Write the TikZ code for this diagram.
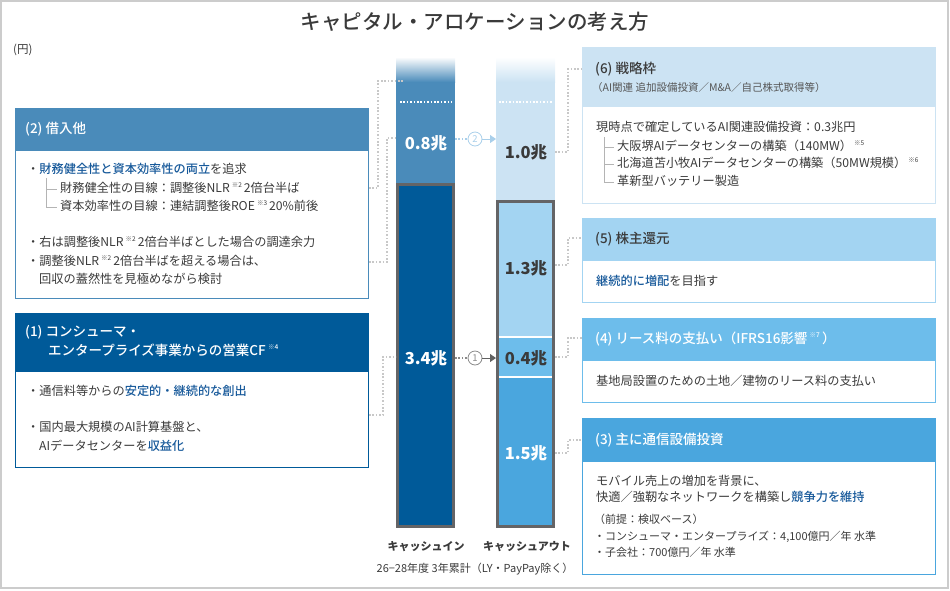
\documentclass[tikz,border=0pt]{standalone}
\usepackage{fontspec}
\setmainfont{Noto Sans CJK JP}
\newfontfamily\medfont{Noto Sans CJK JP Medium}
\usetikzlibrary{arrows.meta}
\definecolor{steel}{HTML}{4A8BBA}
\definecolor{navy}{HTML}{005A99}
\definecolor{pale}{HTML}{CCE3F3}
\definecolor{lblue}{HTML}{A3D4F2}
\definecolor{mblue}{HTML}{6DBDEB}
\definecolor{sblue}{HTML}{4AA6DE}
\definecolor{hl}{HTML}{17599A}
\definecolor{txt}{HTML}{3A3A3A}
\definecolor{subtxt}{HTML}{555555}
\definecolor{bargray}{HTML}{646466}
\definecolor{dotgray}{HTML}{C8C8C8}
\definecolor{framegray}{HTML}{CCCCCC}
\definecolor{treegray}{HTML}{B4B4B4}
\definecolor{arrowblue}{HTML}{A9CFEA}
\definecolor{arrowgray}{HTML}{8A8A8A}
\newcommand{\hlt}[1]{{\color{hl}\medfont #1}}
\newcommand{\kome}[1]{\,\raisebox{0.45em}{\fontsize{6.5pt}{7pt}\selectfont ※#1}\,}
\newcommand{\fs}[1]{\fontsize{#1pt}{#1pt}\selectfont}
\begin{document}
\begin{tikzpicture}[x=1pt,y=-1pt,
  bt/.style={anchor=west, inner sep=0pt, text=txt, font=\fs{12.2}, text height=0.88em, text depth=0.12em},
  bts/.style={bt, font=\fs{11}},
  hdw/.style={bt, text=white, font=\fs{13.5}\medfont},
  hdd/.style={bt, text=txt, font=\fs{13.5}\medfont},
  boxnode/.style={anchor=north west, inner sep=0pt, line width=1pt, minimum width=353pt},
  barlbl/.style={inner sep=0pt, font=\fs{16.5}\bfseries},
  dotc/.style={draw=dotgray, line width=1.6pt, dash pattern=on 1.6pt off 1.8pt},
  tree/.style={draw=treegray, line width=1pt},
  wdot/.style={draw=white, line width=1.6pt, dash pattern=on 1.6pt off 1.8pt},
  circnum/.style={circle, draw, line width=0.8pt, minimum size=14pt, inner sep=0pt, font=\fs{9.5}}
]
\useasboundingbox (0,0) rectangle (950,590);
\draw[framegray, line width=1.5pt] (1,1) rectangle (948,588);

% title
\node[font=\fs{20.5}\medfont, text=txt] (title) at (475,22) {キャピタル・アロケーションの考え方};
\node[anchor=west, inner sep=0pt, text=txt, font=\fs{11.5}] (unit) at (13,50) {(円)};

% ---------- left box (2)
\fill[steel] (15,108) rectangle (369,151);
\node[boxnode, draw=steel, minimum height=190pt] (box2) at (15,108) {};
\node[hdw] (h2) at (25,130) {(2) 借入他};
\node[bt] (b2a) at (27,170) {・\hlt{財務健全性と資本効率性の両立}を追求};
\draw[tree] (46,178) |- (57,189);
\draw[tree] (46,189) |- (57,207);
\node[bt] (b2b) at (60,189) {財務健全性の目線：調整後NLR\kome{2}2倍台半ば};
\node[bt] (b2c) at (60,207) {資本効率性の目線：連結調整後ROE\kome{3}20\%前後};
\node[bt] (b2d) at (27,243) {・右は調整後NLR\kome{2}2倍台半ばとした場合の調達余力};
\node[bt] (b2e) at (27,262) {・調整後NLR\kome{2}2倍台半ばを超える場合は、};
\node[bt] (b2f) at (39,280) {回収の蓋然性を見極めながら検討};

% ---------- left box (1)
\fill[navy] (15,313) rectangle (369,372);
\node[boxnode, draw=navy, minimum height=154pt] (box1) at (15,313) {};
\node[hdw] (h1a) at (25,333) {(1) コンシューマ・};
\node[hdw] (h1b) at (48,352) {エンタープライズ事業からの営業CF\kome{4}};
\node[bt] (b1a) at (27,392) {・通信料等からの\hlt{安定的・継続的な創出}};
\node[bt] (b1b) at (27,428) {・国内最大規模のAI計算基盤と、};
\node[bt] (b1c) at (39,447) {AIデータセンターを\hlt{収益化}};

% ---------- bar: cash in
\shade[top color=white, bottom color=steel] (396,57) rectangle (455,82);
\fill[steel] (396,81.5) rectangle (455,183);
\draw[wdot] (400,102) -- (452,102);
\draw[bargray, line width=3pt, fill=navy] (397.5,184.5) rectangle (453.5,526.5);
\node[barlbl, text=white] (v08) at (426,143) {0.8兆};
\node[barlbl, text=white] (v34) at (426,358) {3.4兆};

% ---------- bar: cash out
\shade[top color=white, bottom color=pale] (496,57) rectangle (555,82);
\fill[pale] (496,81.5) rectangle (555,200);
\draw[wdot] (499,102) -- (553,102);
\fill[lblue] (496,200) rectangle (555,337);
\fill[mblue] (496,337) rectangle (555,377);
\fill[sblue] (496,377) rectangle (555,528);
\draw[white, line width=1.2pt] (498,337) -- (553,337);
\draw[white, line width=1.2pt] (498,377) -- (553,377);
\draw[bargray, line width=3pt] (497.5,201.5) rectangle (553.5,526.5);
\node[barlbl, text=txt] (v10) at (526,152) {1.0兆};
\node[barlbl, text=txt] (v13) at (526,268) {1.3兆};
\node[barlbl, text=txt] (v04) at (526,358) {0.4兆};
\node[barlbl, text=white] (v15) at (526,453) {1.5兆};

% ---------- arrows between bars
\coordinate (a2s) at (455,139);
\coordinate (a2e) at (496,139);
\node[circnum, draw=arrowblue, text=arrowblue] (c2) at (475,139) {2};
\draw[draw=arrowblue, line width=1.6pt, dash pattern=on 1.6pt off 1.8pt] (a2s) -- (c2.west);
\draw[arrowblue, line width=1pt, -{Triangle[length=6pt,width=8pt]}] (c2.east) -- (a2e);
\coordinate (a1s) at (455,358);
\coordinate (a1e) at (496,358);
\node[circnum, draw=arrowgray, text=arrowgray] (c1) at (475,358) {1};
\draw[draw=arrowgray, line width=1.6pt, dash pattern=on 1.6pt off 1.8pt] (a1s) -- (c1.west);
\draw[txt!80, line width=1pt, -{Triangle[length=6pt,width=8pt]}] (c1.east) -- (a1e);

% ---------- bottom labels
\node[font=\fs{11}\bfseries, text=txt] (cin) at (426,547) {キャッシュイン};
\node[font=\fs{11}\bfseries, text=txt] (cout) at (527,547) {キャッシュアウト};
\node[font=\fs{11}, text=txt] (period) at (475,569) {26−28年度 3年累計（LY・PayPay除く）};

% ---------- left connectors
\coordinate (l1a) at (369,188); \coordinate (l1b) at (378,81); \coordinate (l1c) at (403,81);
\draw[dotc] (l1a) -| (l1b) -- (l1c);
\coordinate (l2a) at (369,262); \coordinate (l2b) at (387,138); \coordinate (l2c) at (397,138);
\draw[dotc] (l2a) -| (l2b) -- (l2c);
\coordinate (l3a) at (369,415); \coordinate (l3b) at (383,357); \coordinate (l3c) at (396,357);
\draw[dotc] (l3a) -| (l3b) -- (l3c);

% ---------- right connectors
\coordinate (r6a) at (555,152); \coordinate (r6b) at (568,69); \coordinate (r6c) at (582,69);
\draw[dotc] (r6a) -| (r6b) -- (r6c);
\coordinate (r5a) at (555,265); \coordinate (r5b) at (568,238); \coordinate (r5c) at (582,238);
\draw[dotc] (r5a) -| (r5b) -- (r5c);
\coordinate (r4a) at (555,357); \coordinate (r4b) at (568,338); \coordinate (r4c) at (582,338);
\draw[dotc] (r4a) -| (r4b) -- (r4c);
\coordinate (r3a) at (555,453); \coordinate (r3b) at (568,440); \coordinate (r3c) at (582,440);
\draw[dotc] (r3a) -| (r3b) -- (r3c);

% ---------- right box (6)
\fill[pale] (582,47) rectangle (935,107);
\node[boxnode, draw=pale, minimum height=156pt] (box6) at (582,47) {};
\node[hdd] (h6) at (595,70) {(6) 戦略枠};
\node[bt, font=\fs{10.5}, text=subtxt] (h6s) at (592,88) {（AI関連 追加設備投資／M\&A／自己株式取得等）};
\node[bt] (b6a) at (596,128) {現時点で確定しているAI関連設備投資：0.3兆円};
\draw[tree] (604,137) |- (614,147);
\draw[tree] (604,147) |- (614,164);
\draw[tree] (604,164) |- (614,182);
\node[bt] (b6b) at (617,147) {大阪堺AIデータセンターの構築（140MW）\kome{5}};
\node[bt] (b6c) at (617,164) {北海道苫小牧AIデータセンターの構築（50MW規模）\kome{6}};
\node[bt] (b6d) at (617,182) {革新型バッテリー製造};

% ---------- right box (5)
\fill[lblue] (582,218) rectangle (935,261);
\node[boxnode, draw=lblue, minimum height=84pt] (box5) at (582,218) {};
\node[hdd] (h5) at (595,240) {(5) 株主還元};
\node[bt] (b5a) at (596,282) {\hlt{継続的に増配}を目指す};

% ---------- right box (4)
\fill[mblue] (582,318) rectangle (935,361);
\node[boxnode, draw=mblue, minimum height=84pt] (box4) at (582,318) {};
\node[hdw] (h4) at (595,340) {(4) リース料の支払い（IFRS16影響\kome{7}）};
\node[bt] (b4a) at (596,382) {基地局設置のための土地／建物のリース料の支払い};

% ---------- right box (3)
\fill[sblue] (582,418) rectangle (935,462);
\node[boxnode, draw=sblue, minimum height=156pt] (box3) at (582,418) {};
\node[hdw] (h3) at (595,441) {(3) 主に通信設備投資};
\node[bt] (b3a) at (596,482) {モバイル売上の増加を背景に、};
\node[bt] (b3b) at (596,498) {快適／強靭なネットワークを構築し\hlt{競争力を維持}};
\node[bts] (b3c) at (594,520) {（前提：検収ベース）};
\node[bts] (b3d) at (594,537) {・コンシューマ・エンタープライズ：4,100億円／年 水準};
\node[bts] (b3e) at (594,553) {・子会社：700億円／年 水準};
\end{tikzpicture}
\end{document}
